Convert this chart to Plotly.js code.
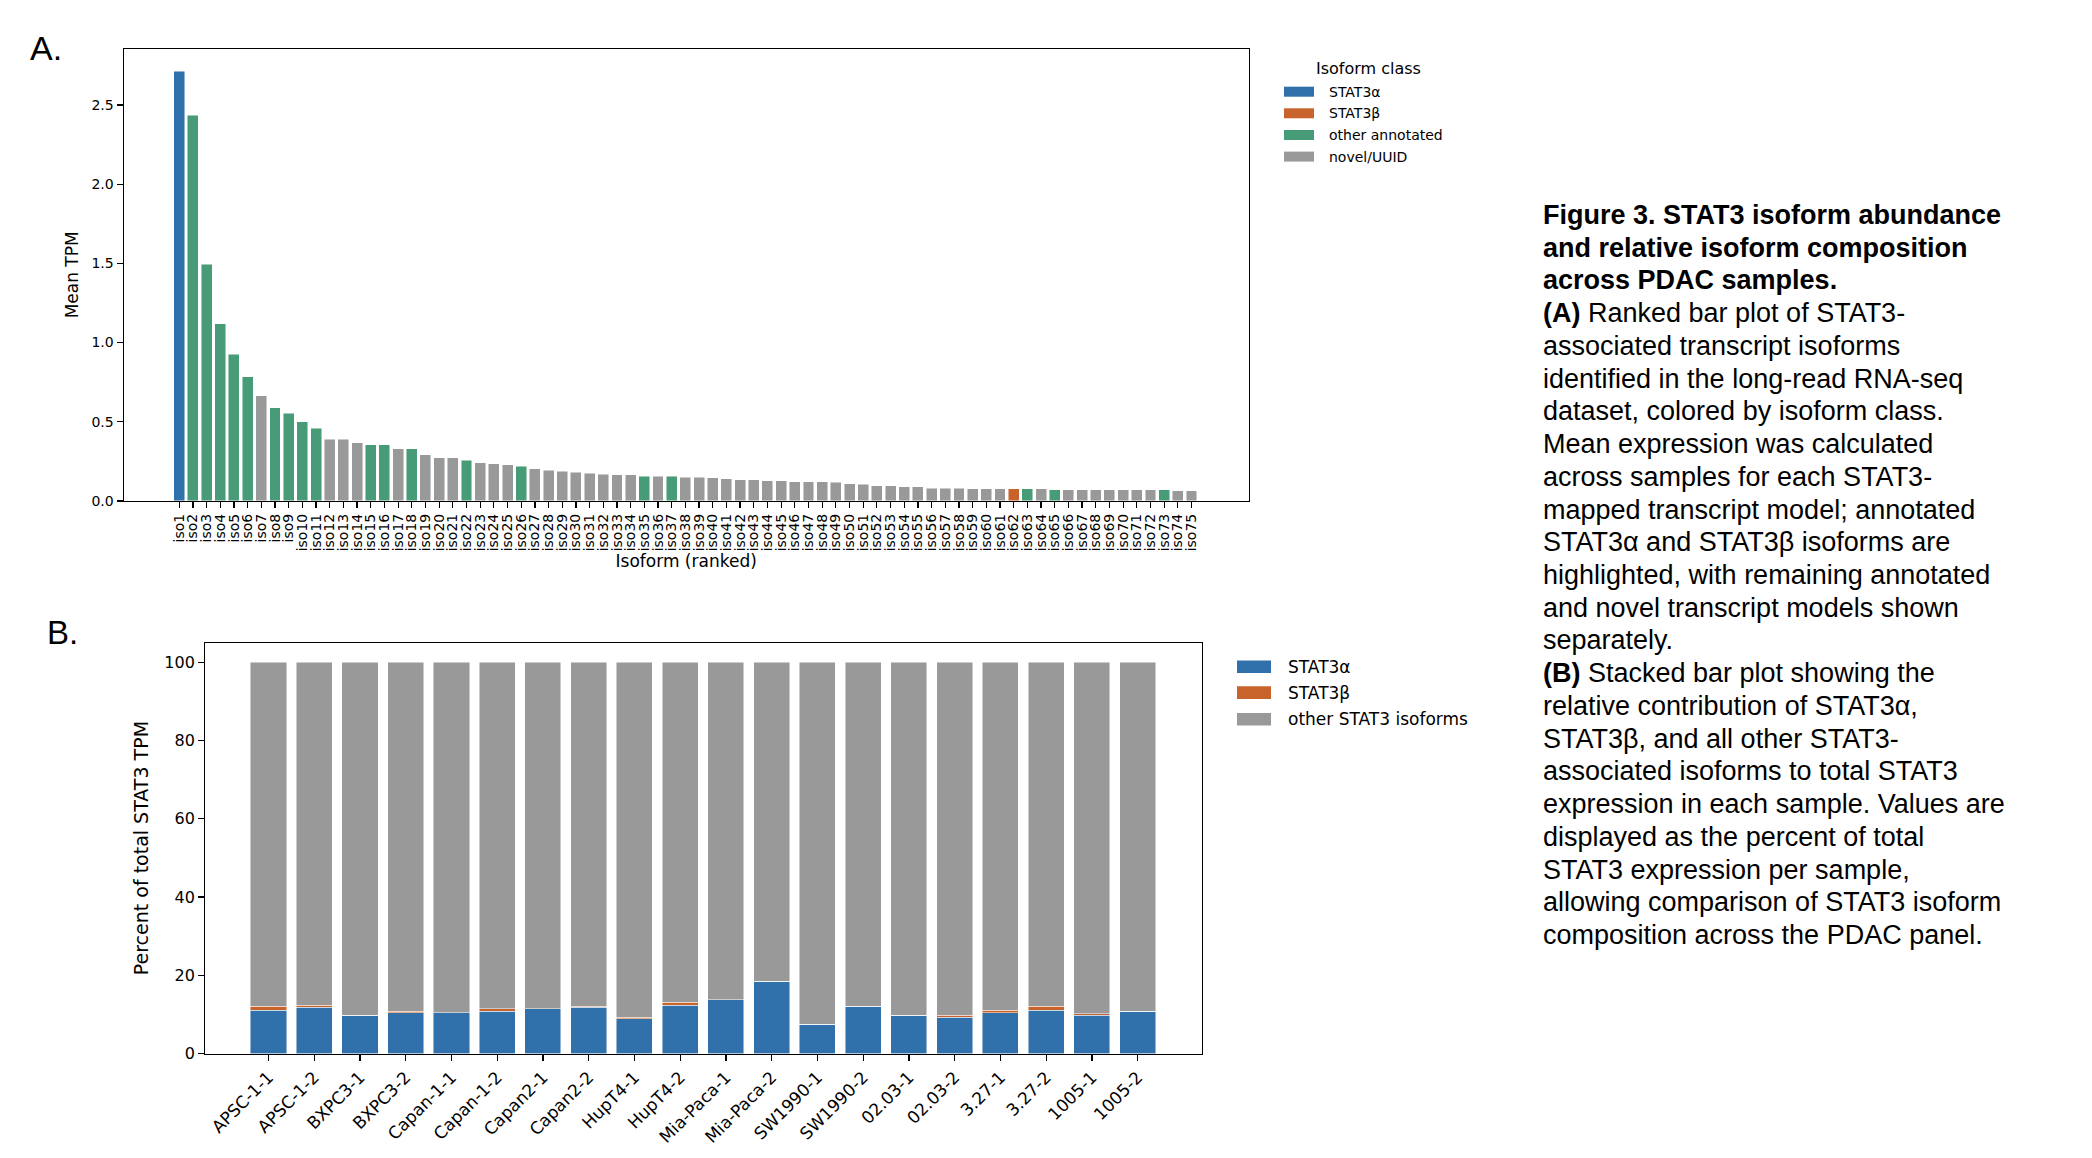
<!DOCTYPE html>
<html>
<head>
<meta charset="utf-8">
<script src="https://cdn.plot.ly/plotly-3.0.1.min.js"></script>
<style>
html,body{margin:0;padding:0;background:#fff;}
#chart{width:2092px;height:1158px;}
</style>
</head>
<body>
<div id="chart"></div>
<script>
// ---------------- Panel A data ----------------
const isoforms = ["iso1","iso2","iso3","iso4","iso5","iso6","iso7","iso8","iso9","iso10",
  "iso11","iso12","iso13","iso14","iso15","iso16","iso17","iso18","iso19","iso20",
  "iso21","iso22","iso23","iso24","iso25","iso26","iso27","iso28","iso29","iso30",
  "iso31","iso32","iso33","iso34","iso35","iso36","iso37","iso38","iso39","iso40",
  "iso41","iso42","iso43","iso44","iso45","iso46","iso47","iso48","iso49","iso50",
  "iso51","iso52","iso53","iso54","iso55","iso56","iso57","iso58","iso59","iso60",
  "iso61","iso62","iso63","iso64","iso65","iso66","iso67","iso68","iso69","iso70",
  "iso71","iso72","iso73","iso74","iso75"];
const meanTPM = [2.712,2.435,1.495,1.120,0.926,0.785,0.664,0.590,0.555,0.499,
  0.459,0.390,0.390,0.367,0.354,0.354,0.331,0.331,0.291,0.274,
  0.274,0.256,0.241,0.235,0.229,0.218,0.205,0.193,0.187,0.182,
  0.176,0.170,0.166,0.166,0.155,0.155,0.155,0.149,0.149,0.147,
  0.141,0.134,0.134,0.128,0.128,0.123,0.123,0.123,0.117,0.110,
  0.106,0.095,0.095,0.089,0.089,0.082,0.082,0.082,0.076,0.076,
  0.076,0.076,0.076,0.076,0.071,0.071,0.071,0.071,0.071,0.071,
  0.071,0.071,0.071,0.065,0.065];
// a = STAT3α, b = STAT3β, o = other annotated, n = novel/UUID
const isoformClass = ["a","o","o","o","o","o","n","o","o","o",
  "o","n","n","n","o","o","n","o","n","n",
  "n","o","n","n","n","o","n","n","n","n",
  "n","n","n","n","o","n","o","n","n","n",
  "n","n","n","n","n","n","n","n","n","n",
  "n","n","n","n","n","n","n","n","n","n",
  "n","b","o","n","o","n","n","n","n","n",
  "n","n","o","n","n"];
const classKeys = ["a","b","o","n"];
const classNames = ["STAT3α","STAT3β","other annotated","novel/UUID"];
const classColors = ["#3070ab","#c8642b","#479b77","#999999"];

// ---------------- Panel B data ----------------
const samples = ["APSC-1-1","APSC-1-2","BXPC3-1","BXPC3-2","Capan-1-1","Capan-1-2",
  "Capan2-1","Capan2-2","HupT4-1","HupT4-2","Mia-Paca-1","Mia-Paca-2",
  "SW1990-1","SW1990-2","02.03-1","02.03-2","3.27-1","3.27-2","1005-1","1005-2"];
const pctAlpha = [11.09,11.77,9.81,10.41,10.41,10.75,11.43,11.77,8.87,12.37,
  13.74,18.52,7.51,12.03,9.81,9.22,10.41,11.09,9.81,10.75];
const pctBeta = [0.94,0.60,0.00,0.34,0.00,0.68,0.00,0.26,0.35,0.68,
  0.00,0.00,0.00,0.00,0.00,0.60,0.68,0.94,0.34,0.00];
const pctOther = [87.97,87.63,90.19,89.25,89.59,88.57,88.57,87.97,90.78,86.95,
  86.26,81.48,92.49,87.97,90.19,90.18,88.91,87.97,89.85,89.25];
const compNames = ["STAT3α","STAT3β","other STAT3 isoforms"];
const compColors = ["#3070ab","#c8642b","#999999"];

// ---------------- Caption ----------------
const captionLines = [
  "<b>Figure 3. STAT3 isoform abundance</b>",
  "<b>and relative isoform composition</b>",
  "<b>across PDAC samples.</b>",
  "<b>(A)</b> Ranked bar plot of STAT3-",
  "associated transcript isoforms",
  "identified in the long-read RNA-seq",
  "dataset, colored by isoform class.",
  "Mean expression was calculated",
  "across samples for each STAT3-",
  "mapped transcript model; annotated",
  "STAT3α and STAT3β isoforms are",
  "highlighted, with remaining annotated",
  "and novel transcript models shown",
  "separately.",
  "<b>(B)</b> Stacked bar plot showing the",
  "relative contribution of STAT3α,",
  "STAT3β, and all other STAT3-",
  "associated isoforms to total STAT3",
  "expression in each sample. Values are",
  "displayed as the percent of total",
  "STAT3 expression per sample,",
  "allowing comparison of STAT3 isoform",
  "composition across the PDAC panel."
];

// ---------------- Build ----------------
const W = 2092, H = 1158;
const px = x => x / W;
const py = y => 1 - y / H;
const FONT = "DejaVu Sans, Verdana, sans-serif";
const CAPFONT = "Liberation Sans, Arial, Helvetica, sans-serif";

const colorOf = {};
classKeys.forEach((k, i) => colorOf[k] = classColors[i]);

const traces = [];
traces.push({
  type: "bar", x: isoforms, y: meanTPM, xaxis: "x", yaxis: "y",
  width: 0.8,
  marker: {color: isoformClass.map(c => colorOf[c]), line: {color: "rgba(255,255,255,0.6)", width: 0.8}},
  showlegend: false, hoverinfo: "x+y"
});
[pctAlpha, pctBeta, pctOther].forEach((vals, i) => {
  traces.push({
    type: "bar", x: samples, y: vals, xaxis: "x2", yaxis: "y2",
    name: compNames[i], width: 0.79,
    marker: {color: compColors[i], line: {color: "rgba(255,255,255,0.6)", width: 0.8}},
    showlegend: false
  });
});

const axCommon = {
  showline: true, mirror: true, linecolor: "#000", linewidth: 1.2,
  ticks: "outside", ticklen: 6, tickwidth: 1.2, tickcolor: "#000",
  showgrid: false, zeroline: false, fixedrange: true
};

const annotations = [];
const shapes = [];

// Panel letters
annotations.push({xref: "paper", yref: "paper", x: px(28), y: py(48), xanchor: "left", yanchor: "middle",
  text: "A.", showarrow: false, font: {family: CAPFONT, size: 34, color: "#000"}});
annotations.push({xref: "paper", yref: "paper", x: px(45), y: py(632), xanchor: "left", yanchor: "middle",
  text: "B.", showarrow: false, font: {family: CAPFONT, size: 33, color: "#000"}});

// Legend A (Isoform class)
annotations.push({xref: "paper", yref: "paper", x: px(1368), y: py(69), xanchor: "center", yanchor: "middle",
  text: "Isoform class", showarrow: false, font: {family: FONT, size: 16, color: "#000"}});
const legAy = [91.7, 113.3, 135, 156.6];
classNames.forEach((nm, i) => {
  shapes.push({type: "rect", xref: "paper", yref: "paper", x0: px(1284), x1: px(1314),
    y0: py(legAy[i] - 5), y1: py(legAy[i] + 5), fillcolor: classColors[i], line: {width: 0}});
  annotations.push({xref: "paper", yref: "paper", x: px(1327), y: py(legAy[i]), xanchor: "left", yanchor: "middle",
    text: nm, showarrow: false, font: {family: FONT, size: 14, color: "#000"}});
});

// Legend B
const legBy = [666.7, 692.6, 719.3];
compNames.forEach((nm, i) => {
  shapes.push({type: "rect", xref: "paper", yref: "paper", x0: px(1237), x1: px(1271),
    y0: py(legBy[i] - 6.3), y1: py(legBy[i] + 6.3), fillcolor: compColors[i], line: {width: 0}});
  annotations.push({xref: "paper", yref: "paper", x: px(1286), y: py(legBy[i]), xanchor: "left", yanchor: "middle",
    text: nm, showarrow: false, font: {family: FONT, size: 17, color: "#000"}});
});

// Caption
captionLines.forEach((ln, i) => {
  annotations.push({xref: "paper", yref: "paper", x: px(1541), y: py(215 + i * 32.73),
    xanchor: "left", yanchor: "middle", align: "left", text: ln, showarrow: false,
    font: {family: CAPFONT, size: 27, color: "#000"}});
});

const layout = {
  width: W, height: H,
  margin: {l: 0, r: 0, t: 0, b: 0},
  paper_bgcolor: "#fff", plot_bgcolor: "#fff",
  barmode: "stack",
  showlegend: false,
  xaxis: Object.assign({}, axCommon, {
    domain: [px(123.7), px(1248.7)], anchor: "y", type: "category",
    range: [-4.06, 78.18], tickangle: -90,
    tickmode: "array", tickvals: isoforms, ticktext: isoforms,
    tickfont: {family: FONT, size: 14, color: "#000"},
    title: {text: "Isoform (ranked)", font: {family: FONT, size: 17, color: "#000"}, standoff: 4}
  }),
  yaxis: Object.assign({}, axCommon, {
    domain: [py(501), py(48.7)], anchor: "x",
    range: [0, 2.855], tickvals: [0, 0.5, 1, 1.5, 2, 2.5], tickformat: ".1f",
    tickfont: {family: FONT, size: 14, color: "#000"},
    title: {text: "Mean TPM", font: {family: FONT, size: 17, color: "#000"}, standoff: 8}
  }),
  xaxis2: Object.assign({}, axCommon, {
    domain: [px(205.3), px(1201.7)], anchor: "y2", type: "category",
    range: [-1.38, 20.4], tickangle: -45,
    tickmode: "array", tickvals: samples, ticktext: samples,
    tickfont: {family: FONT, size: 17, color: "#000"}
  }),
  yaxis2: Object.assign({}, axCommon, {
    domain: [py(1053.5), py(642.7)], anchor: "x2",
    range: [0, 105], tickvals: [0, 20, 40, 60, 80, 100],
    tickfont: {family: FONT, size: 16, color: "#000"},
    title: {text: "Percent of total STAT3 TPM", font: {family: FONT, size: 19, color: "#000"}, standoff: 10}
  }),
  annotations: annotations,
  shapes: shapes
};

Plotly.newPlot("chart", traces, layout, {displayModeBar: false, staticPlot: true});
</script>
</body>
</html>
